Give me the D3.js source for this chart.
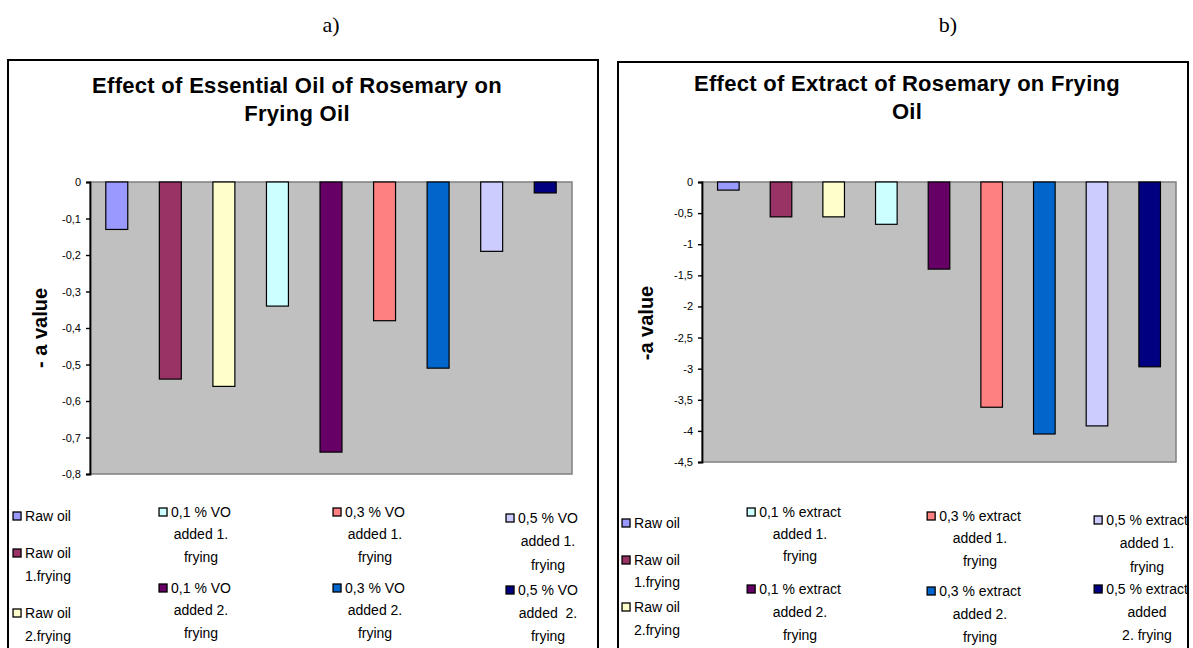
<!DOCTYPE html>
<html><head><meta charset="utf-8">
<script src="https://cdn.jsdelivr.net/npm/d3@7"></script>
<style>
body{margin:0;background:#fff;}
svg{display:block;font-family:"Liberation Sans",Arial,sans-serif;}
</style></head>
<body>
<svg id="c" width="1193" height="648"></svg>
<script>
// ---------- data ----------
const colors = ["#9999FF","#993366","#FFFFCC","#CCFFFF","#660066","#FF8080","#0066CC","#CCCCFF","#000080"];

const categoriesA = ["Raw oil","Raw oil 1.frying","Raw oil 2.frying","0,1 % VO added 1. frying","0,1 % VO added 2. frying","0,3 % VO added 1. frying","0,3 % VO added 2. frying","0,5 % VO added 1. frying","0,5 % VO added 2. frying"];
const valuesA = [-0.13,-0.54,-0.56,-0.34,-0.74,-0.38,-0.51,-0.19,-0.03];
const ticksA = [0,-0.1,-0.2,-0.3,-0.4,-0.5,-0.6,-0.7,-0.8];
const tickLabelsA = ["0","-0,1","-0,2","-0,3","-0,4","-0,5","-0,6","-0,7","-0,8"];
const legendLinesA = [["Raw oil"],["Raw oil","1.frying"],["Raw oil","2.frying"],["0,1 % VO","added 1.","frying"],["0,1 % VO","added 2.","frying"],["0,3 % VO","added 1.","frying"],["0,3 % VO","added 2.","frying"],["0,5 % VO","added 1.","frying"],["0,5 % VO","added  2.","frying"]];

const categoriesB = ["Raw oil","Raw oil 1.frying","Raw oil 2.frying","0,1 % extract added 1. frying","0,1 % extract added 2. frying","0,3 % extract added 1. frying","0,3 % extract added 2. frying","0,5 % extract added 1. frying","0,5 % extract added 2. frying"];
const valuesB = [-0.13,-0.56,-0.56,-0.68,-1.40,-3.62,-4.05,-3.92,-2.97];
const ticksB = [0,-0.5,-1,-1.5,-2,-2.5,-3,-3.5,-4,-4.5];
const tickLabelsB = ["0","-0,5","-1","-1,5","-2","-2,5","-3","-3,5","-4","-4,5"];
const legendLinesB = [["Raw oil"],["Raw oil","1.frying"],["Raw oil","2.frying"],["0,1 % extract","added 1.","frying"],["0,1 % extract","added 2.","frying"],["0,3 % extract","added 1.","frying"],["0,3 % extract","added 2.","frying"],["0,5 % extract","added 1.","frying"],["0,5 % extract","added","2. frying"]];

// ---------- layout ----------
const svg = d3.select("#c");

function drawChart(cfg){
  const g = svg.append("g");
  g.append("text").attr("x",cfg.letterX).attr("y",32).attr("text-anchor","middle")
    .style("font-family","'Liberation Serif','Times New Roman',serif").style("font-size","22px").text(cfg.letter);
  g.append("rect").attr("x",cfg.box[0]).attr("y",cfg.box[1]).attr("width",cfg.box[2]).attr("height",cfg.box[3])
    .attr("fill","#fff").attr("stroke","#000").attr("stroke-width",2);
  cfg.title.forEach((t,i)=>{
    g.append("text").attr("x",cfg.titleX).attr("y",cfg.titleY+i*27.5).attr("text-anchor","middle")
      .style("font-weight","bold").style("font-size","22px").style("letter-spacing","0.3px").text(t);
  });
  const x = d3.scaleBand().domain(cfg.cats).range([cfg.plot.x0,cfg.plot.x1]).paddingInner(0.59).paddingOuter(0.295);
  const y = d3.scaleLinear().domain([cfg.ticks[cfg.ticks.length-1],0]).range([cfg.plot.y1,cfg.plot.y0]);
  g.append("rect").attr("x",cfg.plot.x0).attr("y",cfg.plot.y0).attr("width",cfg.plot.x1-cfg.plot.x0).attr("height",cfg.plot.y1-cfg.plot.y0)
    .attr("fill","#C0C0C0").attr("stroke","#808080").attr("stroke-width",1.5);
  g.selectAll("rect.bar").data(cfg.vals).enter().append("rect").attr("class","bar")
    .attr("x",(d,i)=>x(cfg.cats[i])).attr("width",x.bandwidth())
    .attr("y",y(0)).attr("height",d=>y(d)-y(0))
    .attr("fill",(d,i)=>colors[i]).attr("stroke","#000").attr("stroke-width",1.2);
  const ax = d3.axisLeft(y).tickValues(cfg.ticks).tickSize(4).tickFormat((d,i)=>cfg.tickLabels[i]);
  const axg = g.append("g").attr("transform",`translate(${cfg.plot.x0},0)`).call(ax);
  axg.select(".domain").attr("stroke","#000").attr("stroke-width",1.8);
  axg.selectAll(".tick line").attr("stroke","#000").attr("stroke-width",1.4);
  axg.selectAll(".tick text").style("font-size","11px").style("font-family","'Liberation Sans',Arial,sans-serif").attr("x",-9);
  g.append("text").attr("transform",`translate(${cfg.ylabX},${cfg.ylabY}) rotate(-90)`).attr("text-anchor","middle")
    .attr("dy","0.35em").style("font-weight","bold").style("font-size","20px").text(cfg.ylab);
  cfg.legend.forEach((lines,i)=>{
    const pos = cfg.legPos[i];
    const lg = g.append("g");
    lines.forEach((ln,j)=>{
      const t = lg.append("text").attr("x",pos[0]).attr("y",pos[1]+j*cfg.legLine[i]).attr("text-anchor","middle")
        .style("font-size","14px").attr("dy","0.35em").style("white-space","pre").text(ln);
      if(j===0){
        const w = t.node().getComputedTextLength();
        lg.append("rect").attr("x",pos[0]-w/2-12).attr("y",pos[1]-4).attr("width",8).attr("height",8)
          .attr("fill",colors[i]).attr("stroke","#000").attr("stroke-width",1.3);
      }
    });
  });
}

drawChart({
  letter:"a)", letterX:331, box:[8,60,590,600],
  title:["Effect of Essential Oil of Rosemary on","Frying Oil"], titleX:297, titleY:93,
  plot:{x0:90,x1:572,y0:182,y1:474},
  cats:categoriesA, vals:valuesA, ticks:ticksA, tickLabels:tickLabelsA,
  ylab:"- a value", ylabX:40, ylabY:328,
  legend:legendLinesA,
  legPos:[[48,516],[48,553],[48,613],[201,512],[201,588],[375,512],[375,588],[548,518],[548,590]],
  legLine:[24,23,23,22.5,22.5,22.5,22.5,23.5,23]
});
drawChart({
  letter:"b)", letterX:948, box:[618,62,570,600],
  title:["Effect of Extract of Rosemary on Frying","Oil"], titleX:907, titleY:91,
  plot:{x0:702,x1:1176,y0:182,y1:462},
  cats:categoriesB, vals:valuesB, ticks:ticksB, tickLabels:tickLabelsB,
  ylab:"-a value", ylabX:646, ylabY:323,
  legend:legendLinesB,
  legPos:[[657,523],[657,560],[657,607],[800,512],[800,589],[980,516],[980,591],[1147,520],[1147,589]],
  legLine:[22,22,23,22,23,22.5,23,23.5,23]
});
</script>
</body></html>
